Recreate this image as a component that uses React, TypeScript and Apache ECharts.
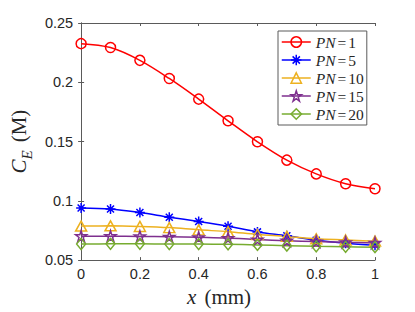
import React, { useEffect, useRef } from "react";
import * as echarts from "echarts";

const xValues = [0, 0.1, 0.2, 0.3, 0.4, 0.5, 0.6, 0.7, 0.8, 0.9, 1];
const pn1 = [0.2326, 0.2293, 0.2185, 0.2032, 0.1858, 0.1675, 0.1498, 0.1343, 0.1227, 0.1144, 0.1102];
const pn5 = [0.094, 0.0931, 0.0901, 0.0862, 0.0826, 0.0786, 0.0738, 0.0705, 0.0668, 0.0642, 0.0625];
const pn10 = [0.0787, 0.0789, 0.0784, 0.0774, 0.0755, 0.074, 0.0716, 0.07, 0.068, 0.067, 0.066];
const pn15 = [0.0702, 0.0702, 0.07, 0.0697, 0.0692, 0.0686, 0.0673, 0.0664, 0.0656, 0.065, 0.0645];
const pn20 = [0.0636, 0.0637, 0.0637, 0.0636, 0.0635, 0.0633, 0.0628, 0.0622, 0.0616, 0.0612, 0.0609];
const seriesNames = ["PN=1", "PN=5", "PN=10", "PN=15", "PN=20"];
const seriesValues = [pn1, pn5, pn10, pn15, pn20];
const colors = ["#FF0000", "#0000FF", "#EDB120", "#7E2F8E", "#77AC30"];

const ASTERISK = "path://M5,0L5,10M0,5L10,5M1.5,1.5L8.5,8.5M1.5,8.5L8.5,1.5";
const STAR =
  "path://M50,0L61.23,34.55L97.55,34.55L68.17,55.9L79.39,90.45L50,69.1L20.61,90.45L31.83,55.9L2.45,34.55L38.77,34.55Z";
const symbols = ["circle", ASTERISK, "triangle", STAR, "diamond"];
const symbolSizes = [10, 10, [11, 10], 11, [9, 11]];

const AXIS_COLOR = "#5a5a5a";
const TEXT_COLOR = "#262626";
const SERIF = "Liberation Serif, serif";

export default function App() {
  const ref = useRef<HTMLDivElement>(null);
  useEffect(() => {
    if (!ref.current) return;
    const chart = echarts.init(ref.current, undefined, { renderer: "svg" });
    const axisCommon = {
      axisLine: { show: true, lineStyle: { color: AXIS_COLOR, width: 1 } },
      axisTick: { show: true, inside: true, length: 3, lineStyle: { color: AXIS_COLOR } },
      splitLine: { show: false },
    };
    const labelStyle = {
      color: TEXT_COLOR,
      fontFamily: "Liberation Sans, Arial, sans-serif",
      fontSize: 14.5,
    };
    chart.setOption({
      animation: false,
      backgroundColor: "#ffffff",
      grid: { left: 64, right: 40, top: 23, bottom: 48, containLabel: false },
      xAxis: [
        {
          type: "value",
          min: 0,
          max: 1,
          interval: 0.2,
          position: "bottom",
          ...axisCommon,
          axisLabel: { ...labelStyle, margin: 6 },
          name: "{x|x}{s| }{n|(mm)}",
          nameLocation: "middle",
          nameGap: 25,
          nameTextStyle: {
            padding: [0, 18, 0, 0],
            rich: {
              x: { fontFamily: SERIF, fontStyle: "italic", fontSize: 21, color: TEXT_COLOR, lineHeight: 22 },
              s: { fontFamily: SERIF, fontSize: 21, color: TEXT_COLOR, lineHeight: 22, width: 8 },
              n: { fontFamily: SERIF, fontSize: 21, color: TEXT_COLOR, lineHeight: 22 },
            },
          },
        },
        {
          type: "value",
          min: 0,
          max: 1,
          interval: 0.2,
          position: "top",
          ...axisCommon,
          axisLabel: { show: false },
        },
      ],
      yAxis: [
        {
          type: "value",
          min: 0.05,
          max: 0.25,
          interval: 0.05,
          position: "left",
          ...axisCommon,
          axisLabel: { ...labelStyle, margin: 8 },
          name: "{c|C}{e|E}{s| }{n|(M)}",
          nameLocation: "middle",
          nameRotate: 90,
          nameGap: 37,
          nameTextStyle: {
            rich: {
              c: { fontFamily: SERIF, fontStyle: "italic", fontSize: 21, color: TEXT_COLOR, lineHeight: 26, verticalAlign: "top" },
              e: { fontFamily: SERIF, fontStyle: "italic", fontSize: 15, color: TEXT_COLOR, lineHeight: 14, verticalAlign: "bottom" },
              s: { fontFamily: SERIF, fontSize: 21, color: TEXT_COLOR, lineHeight: 26, verticalAlign: "top", width: 8 },
              n: { fontFamily: SERIF, fontSize: 21, color: TEXT_COLOR, lineHeight: 26, verticalAlign: "top" },
            },
          },
        },
        {
          type: "value",
          min: 0.05,
          max: 0.25,
          interval: 0.05,
          position: "right",
          ...axisCommon,
          axisLabel: { show: false },
        },
      ],
      legend: {
        orient: "vertical",
        left: 278,
        top: 31,
        padding: [3, 3, 3, 3],
        itemWidth: 29,
        itemHeight: 13,
        itemGap: 2,
        borderColor: AXIS_COLOR,
        borderWidth: 1,
        backgroundColor: "#ffffff",
        selectedMode: false,
        data: seriesNames.map((n, i) => ({
          name: n,
          itemStyle: { color: "none", borderColor: colors[i], borderWidth: 1.5 },
          lineStyle: { color: colors[i], width: 1.5 },
        })),
        formatter: (name: string) => {
          const parts = name.split("=");
          return `{i|PN}{e|=}{n|${parts[1]}}`;
        },
        textStyle: {
          rich: {
            i: { fontFamily: SERIF, fontStyle: "italic", fontSize: 15.5, color: TEXT_COLOR, lineHeight: 16 },
            e: { fontFamily: SERIF, fontSize: 15.5, color: TEXT_COLOR, lineHeight: 16, padding: [0, 2, 0, 2] },
            n: { fontFamily: SERIF, fontSize: 15.5, color: TEXT_COLOR, lineHeight: 16 },
          },
        },
      },
      series: seriesNames.map((n, i) => ({
        name: n,
        type: "line",
        data: xValues.map((x, j) => [x, seriesValues[i][j]]),
        smooth: 0.35,
        symbol: symbols[i],
        symbolSize: symbolSizes[i],
        showSymbol: true,
        showAllSymbol: true,
        lineStyle: { color: colors[i], width: 1.5 },
        itemStyle: { color: "none", borderColor: colors[i], borderWidth: 1.5 },
        emphasis: { disabled: true },
        clip: false,
      })),
    });
    return () => chart.dispose();
  }, []);
  return <div ref={ref} style={{ width: 415, height: 312, position: "absolute", left: 0, top: 0 }} />;
}
